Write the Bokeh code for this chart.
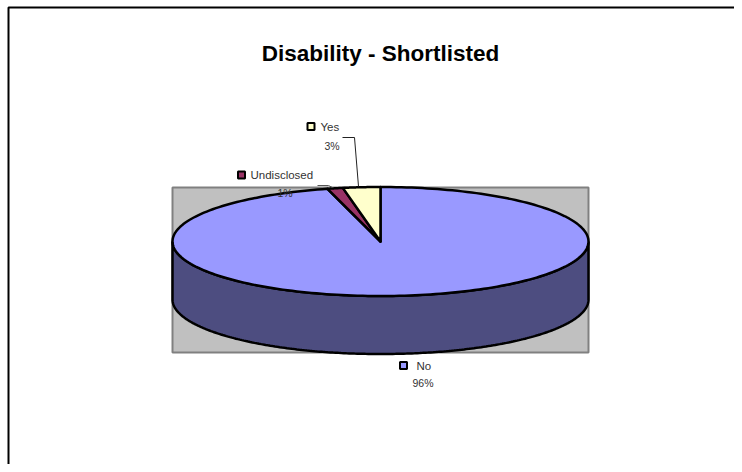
import numpy as np
from bokeh.plotting import figure
from bokeh.models import Range1d
from bokeh.core.properties import value
from bokeh.embed import file_html
from bokeh.resources import INLINE

categories = ["No", "Undisclosed", "Yes"]
shares = [95.9, 1.2, 2.9]
tick_labels = ["96%", "1%", "3%"]
top_colors = ["#9999FF", "#993366", "#FFFFCC"]
wall_color = "#4D4D80"
title = "Disability - Shortlisted"

W, H = 734, 464
CX, CY, RX, RY, DEPTH = 380, 241, 208, 54.5, 58
FONT = "Liberation Sans"


def rim(a0, a1, dy=0.0, n=240):
    """Clockwise-from-top share angles to points on the pie's elliptical rim."""
    t = np.linspace(a0, a1, n)
    return CX + RX * np.sin(t), CY + dy - RY * np.cos(t)


p = figure(width=W, height=H, x_range=Range1d(0, W), y_range=Range1d(H, 0),
           output_backend="svg", toolbar_location=None, min_border=0,
           outline_line_color=None)
p.xaxis.visible = False
p.yaxis.visible = False
p.grid.visible = False
p.background_fill_color = "white"
p.border_fill_color = "white"

# outer chart frame (left and top edges only are inside the picture)
p.line([8, 8, W], [H, 7, 7], line_color="black", line_width=2)

# grey plot area
p.quad(left=172, right=588, top=187, bottom=352, fill_color="#C0C0C0",
       line_color="#808080", line_width=2)

# pie wall (front half of the rim extruded downward)
xf, yf = rim(np.pi / 2, 3 * np.pi / 2)
wall_x = np.concatenate([xf, xf[::-1]])
wall_y = np.concatenate([yf, (yf + DEPTH)[::-1]])
p.patch(wall_x, wall_y, fill_color=wall_color, line_color="black", line_width=2.5)

# pie top: clockwise slices from 12 o'clock
edges = np.concatenate([[0], np.cumsum(shares)]) / np.sum(shares) * 2 * np.pi
for i, c in enumerate(top_colors):
    x, y = rim(edges[i], edges[i + 1])
    p.patch(np.concatenate([[CX], x]), np.concatenate([[CY], y]), fill_color=c,
            line_color="black", line_width=2.5, line_join="round")

# leader lines
p.line([317, 328, 332], [185, 185, 187], line_color="#555555", line_width=1)
p.line([342, 354, 358], [137, 137, 186], line_color="#222222", line_width=1)

# title
p.text([380], [53], text=[title], text_font=value(FONT), text_font_size="22.5px",
       text_font_style="bold", text_align="center", text_baseline="middle",
       text_color="black")

# data labels: colour key, category, percentage
key_x = [403, 241, 310.5]
key_y = [365, 174.5, 126]
name_x = [416, 250, 320]
name_y = [365, 174.5, 126.5]
pct_x = [412, 277, 324]
pct_y = [382.5, 192.5, 145]
p.scatter(key_x, key_y, marker="square", size=7, fill_color=top_colors,
          line_color="black", line_width=2)
p.text(name_x, name_y, text=categories, text_font=value(FONT), text_font_size="11.5px",
       text_baseline="middle", text_color="#333333")
p.text(pct_x, pct_y, text=tick_labels, text_font=value(FONT), text_font_size="10.5px",
       text_baseline="middle", text_color="#333333")

open("out.html", "w").write(file_html(p, INLINE))
